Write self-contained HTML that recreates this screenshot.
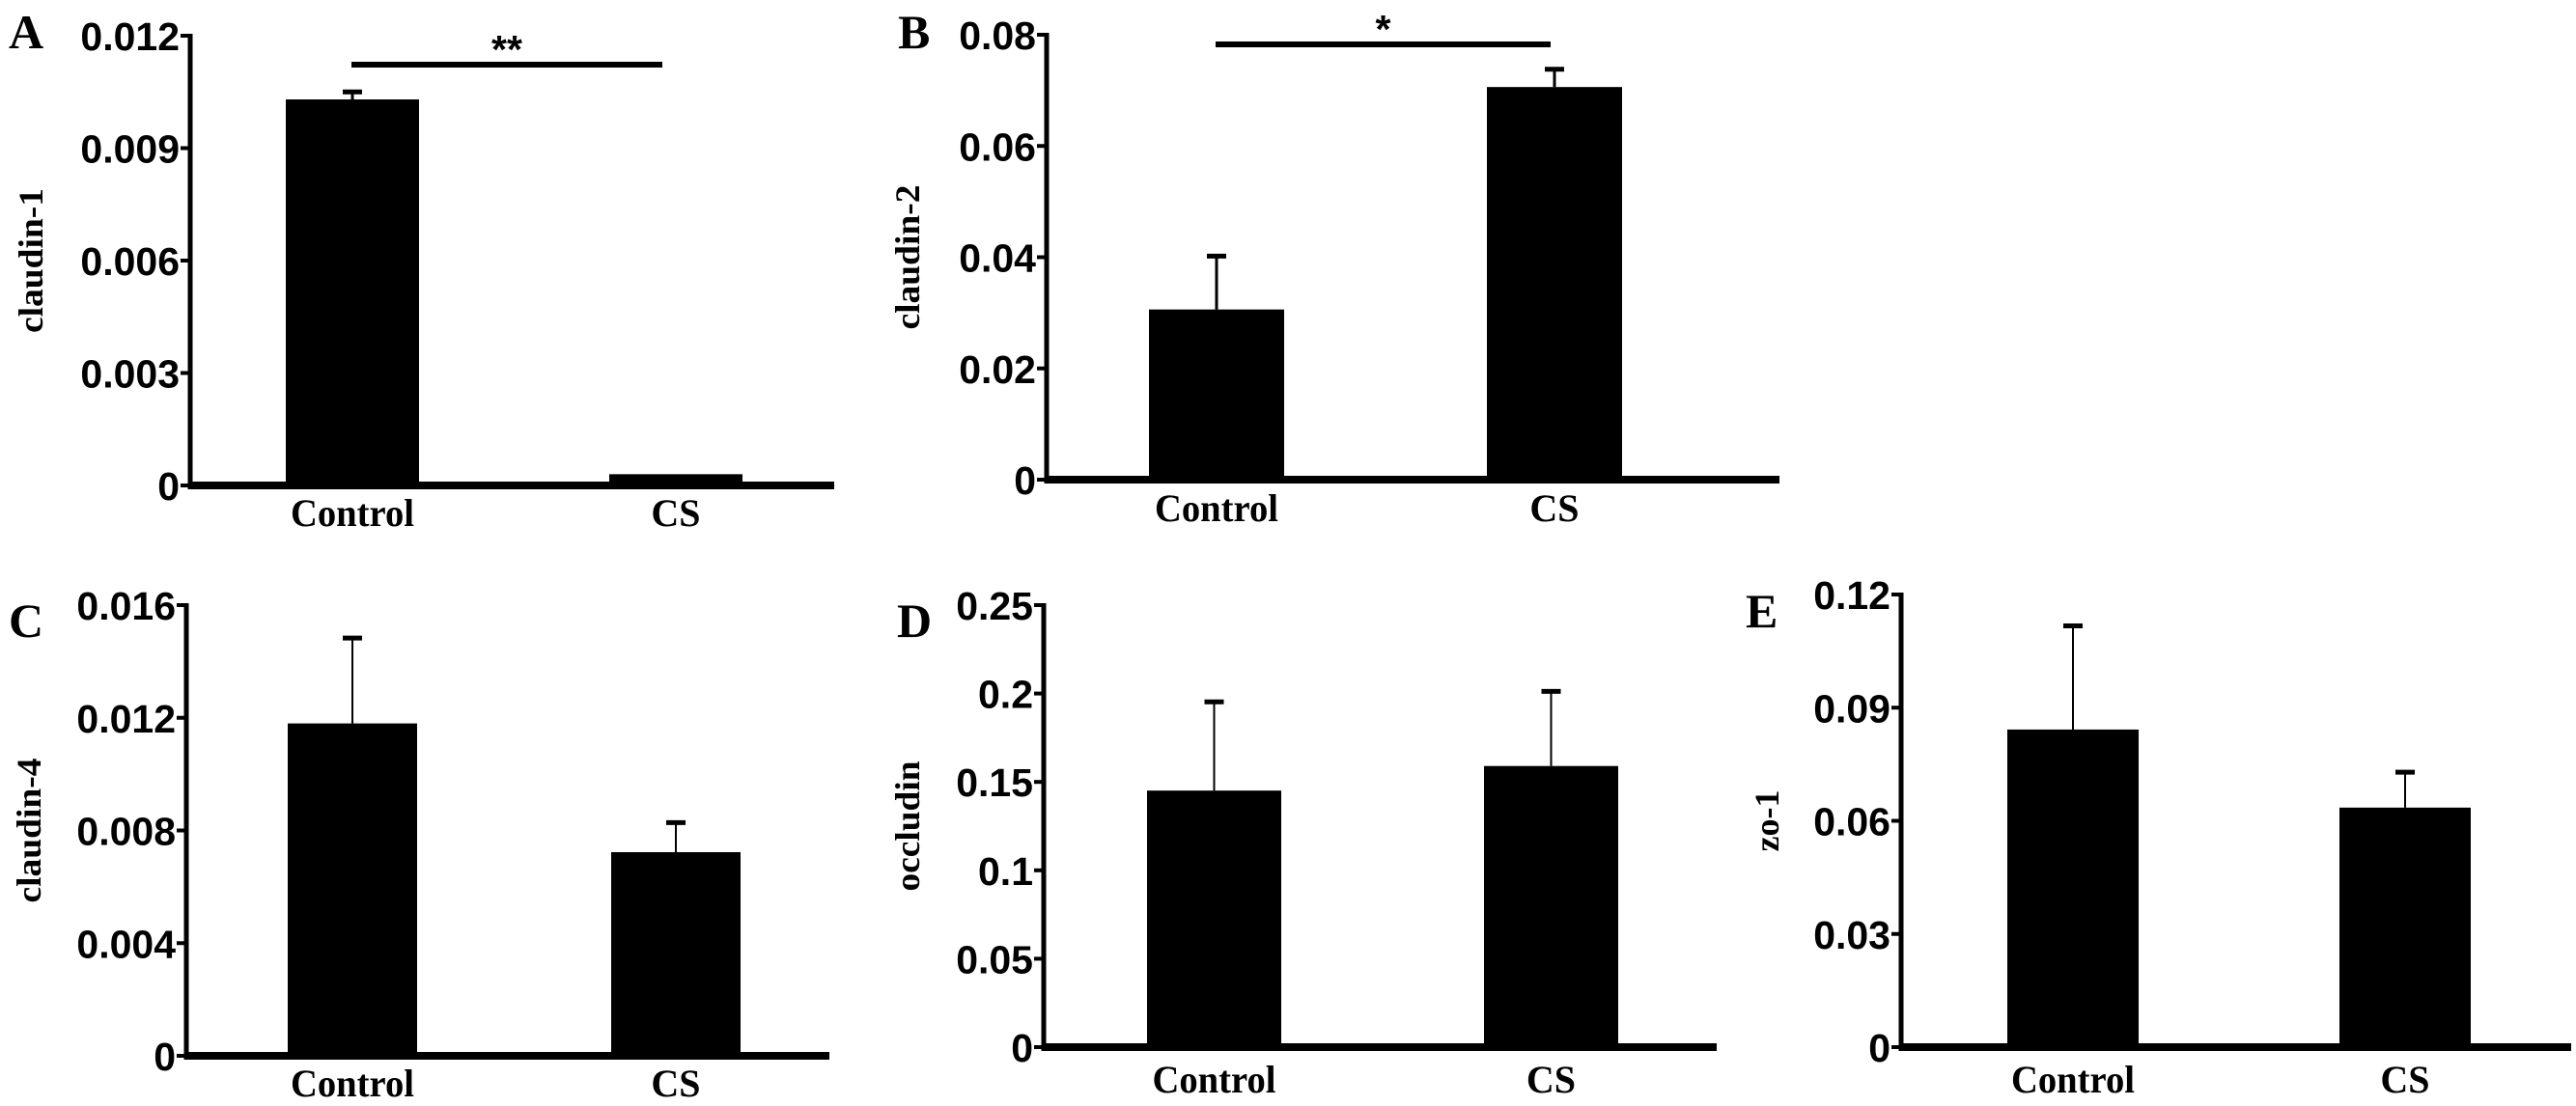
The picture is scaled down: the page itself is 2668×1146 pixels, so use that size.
<!DOCTYPE html>
<html><head><meta charset="utf-8"><style>
html,body{margin:0;padding:0;background:#fff;}
svg{display:block;}
.tick{font-family:"Liberation Sans",sans-serif;font-weight:bold;font-size:41px;}
.ser{font-family:"Liberation Serif",serif;font-weight:bold;}
</style></head><body>
<svg id="fig" width="2668" height="1146" viewBox="0 0 2668 1146" xmlns="http://www.w3.org/2000/svg"></svg>
<script>
const categories = ["Control", "CS"];
const aValues = [0.0103, 0.0003];
const aErrors = [0.0002, 0];
const aTicks = [0, 0.003, 0.006, 0.009, 0.012];
const aTickLabels = ["0", "0.003", "0.006", "0.009", "0.012"];
const bValues = [0.0306, 0.0706];
const bErrors = [0.0096, 0.0032];
const bTicks = [0, 0.02, 0.04, 0.06, 0.08];
const bTickLabels = ["0", "0.02", "0.04", "0.06", "0.08"];
const cValues = [0.0118, 0.00723];
const cErrors = [0.00303, 0.00105];
const cTicks = [0, 0.004, 0.008, 0.012, 0.016];
const cTickLabels = ["0", "0.004", "0.008", "0.012", "0.016"];
const dValues = [0.1451, 0.159];
const dErrors = [0.0502, 0.0422];
const dTicks = [0, 0.05, 0.1, 0.15, 0.2, 0.25];
const dTickLabels = ["0", "0.05", "0.1", "0.15", "0.2", "0.25"];
const eValues = [0.0842, 0.0635];
const eErrors = [0.0275, 0.0094];
const eTicks = [0, 0.03, 0.06, 0.09, 0.12];
const eTickLabels = ["0", "0.03", "0.06", "0.09", "0.12"];

const NS = "http://www.w3.org/2000/svg";
const svg = document.getElementById("fig");
function mk(tag, attrs, parent, text) {
  const e = document.createElementNS(NS, tag);
  for (const k in attrs) e.setAttribute(k, attrs[k]);
  if (text !== undefined) e.textContent = text;
  (parent || svg).appendChild(e);
  return e;
}

function panel(cfg) {
  const g = mk("g", {});
  
  
  const max = cfg.ticks[cfg.ticks.length - 1];
  const y = v => cfg.y0 - (v / max) * (cfg.y0 - cfg.yTop);
  categories.forEach((c, i) => {
    const x0 = cfg.barX[i], w = cfg.barW;
    const top = y(cfg.values[i]);
    const r = mk("rect", {x: x0, y: top, width: w, height: cfg.y0 - top, fill: "#000"}, g);
    
    
    if (cfg.errors[i] > 0) {
      const cx = x0 + w / 2, et = y(cfg.values[i] + cfg.errors[i]);
      const eg = mk("g", {stroke: "#000", "stroke-width": cfg.ew}, g);
      
      
      mk("line", {x1: cx, x2: cx, y1: top, y2: et}, eg);
      mk("line", {x1: cx - 10, x2: cx + 10, y1: et, y2: et, "stroke-width": 5}, eg);
    }
    const attrs = {x: x0 + w / 2, y: cfg.labY, "text-anchor": "middle", class: "ser", "font-size": 40};
    if (c === "Control") { attrs.textLength = 128; attrs.lengthAdjust = "spacingAndGlyphs"; }
    const t = mk("text", attrs, g, c);
    
    
  });
  const ya = mk("line", {x1: cfg.ax, x2: cfg.ax, y1: cfg.yTop - 2, y2: cfg.y0 + 4, stroke: "#000", "stroke-width": 5}, g);
  
  
  const xa = mk("line", {x1: cfg.ax - 2, x2: cfg.axEnd, y1: cfg.y0, y2: cfg.y0, stroke: "#000", "stroke-width": 8}, g);
  
  
  cfg.ticks.forEach((v, i) => {
    const ty = y(v);
    mk("line", {x1: cfg.ax - 10, x2: cfg.ax, y1: ty, y2: ty, stroke: "#000", "stroke-width": 4}, g);
    const t = mk("text", {x: cfg.ax - 11, y: ty + 15, "text-anchor": "end", class: "tick"}, g, cfg.tickLabels[i]);
    
    
  });
  const L = mk("text", {x: cfg.letX, y: cfg.letY, class: "ser", "font-size": 50}, g, cfg.letter);
  
  
  const ytAttrs = {x: 0, y: 0, class: "ser", "font-size": 36, "text-anchor": "middle",
    transform: "translate(" + cfg.ytX + "," + ((cfg.y0 + cfg.yTop) / 2) + ") rotate(-90)"};
  if (cfg.ytLen) { ytAttrs.textLength = cfg.ytLen; ytAttrs.lengthAdjust = "spacingAndGlyphs"; }
  const yt = mk("text", ytAttrs, g, cfg.ytitle);
  
  
  if (cfg.sig) {
    const s = mk("line", {x1: cfg.sig[0], x2: cfg.sig[1], y1: cfg.sig[2], y2: cfg.sig[2], stroke: "#000", "stroke-width": 6}, g);
    
    
    const st = mk("text", {x: (cfg.sig[0] + cfg.sig[1]) / 2, y: cfg.sig[2] - 2, "text-anchor": "middle", class: "tick", "font-size": 70}, g, cfg.sigText);
    
    
  }
}

panel({letter: "A", values: aValues, errors: aErrors, ticks: aTicks, tickLabels: aTickLabels, ytitle: "claudin-1", ytLen: 150,
  ax: 197, axEnd: 864, yTop: 37, y0: 503, barX: [296, 631], barW: 138, labY: 545, ew: 3,
  letX: 9, letY: 50, ytX: 44, sig: [364, 686, 67], sigText: "**"});
panel({letter: "B", values: bValues, errors: bErrors, ticks: bTicks, tickLabels: bTickLabels, ytitle: "claudin-2", ytLen: 150,
  ax: 1084, axEnd: 1843, yTop: 36, y0: 497, barX: [1190, 1540], barW: 140, labY: 540, ew: 3,
  letX: 930, letY: 50, ytX: 952, sig: [1259, 1606, 46], sigText: "*"});
panel({letter: "C", values: cValues, errors: cErrors, ticks: cTicks, tickLabels: cTickLabels, ytitle: "claudin-4", ytLen: 150,
  ax: 193, axEnd: 859, yTop: 627, y0: 1094, barX: [298, 633], barW: 134, labY: 1136, ew: 2,
  letX: 9, letY: 660, ytX: 42, sig: null});
panel({letter: "D", values: dValues, errors: dErrors, ticks: dTicks, tickLabels: dTickLabels, ytitle: "occludin", ytLen: 135,
  ax: 1081, axEnd: 1778, yTop: 627, y0: 1085, barX: [1188, 1537], barW: 139, labY: 1132, ew: 2,
  letX: 929, letY: 660, ytX: 952, sig: null});
panel({letter: "E", values: eValues, errors: eErrors, ticks: eTicks, tickLabels: eTickLabels, ytitle: "zo-1",
  ax: 1969, axEnd: 2663, yTop: 616, y0: 1085, barX: [2079, 2423], barW: 136, labY: 1132, ew: 2,
  letX: 1808, letY: 650, ytX: 1842, sig: null});
</script>
</body></html>
